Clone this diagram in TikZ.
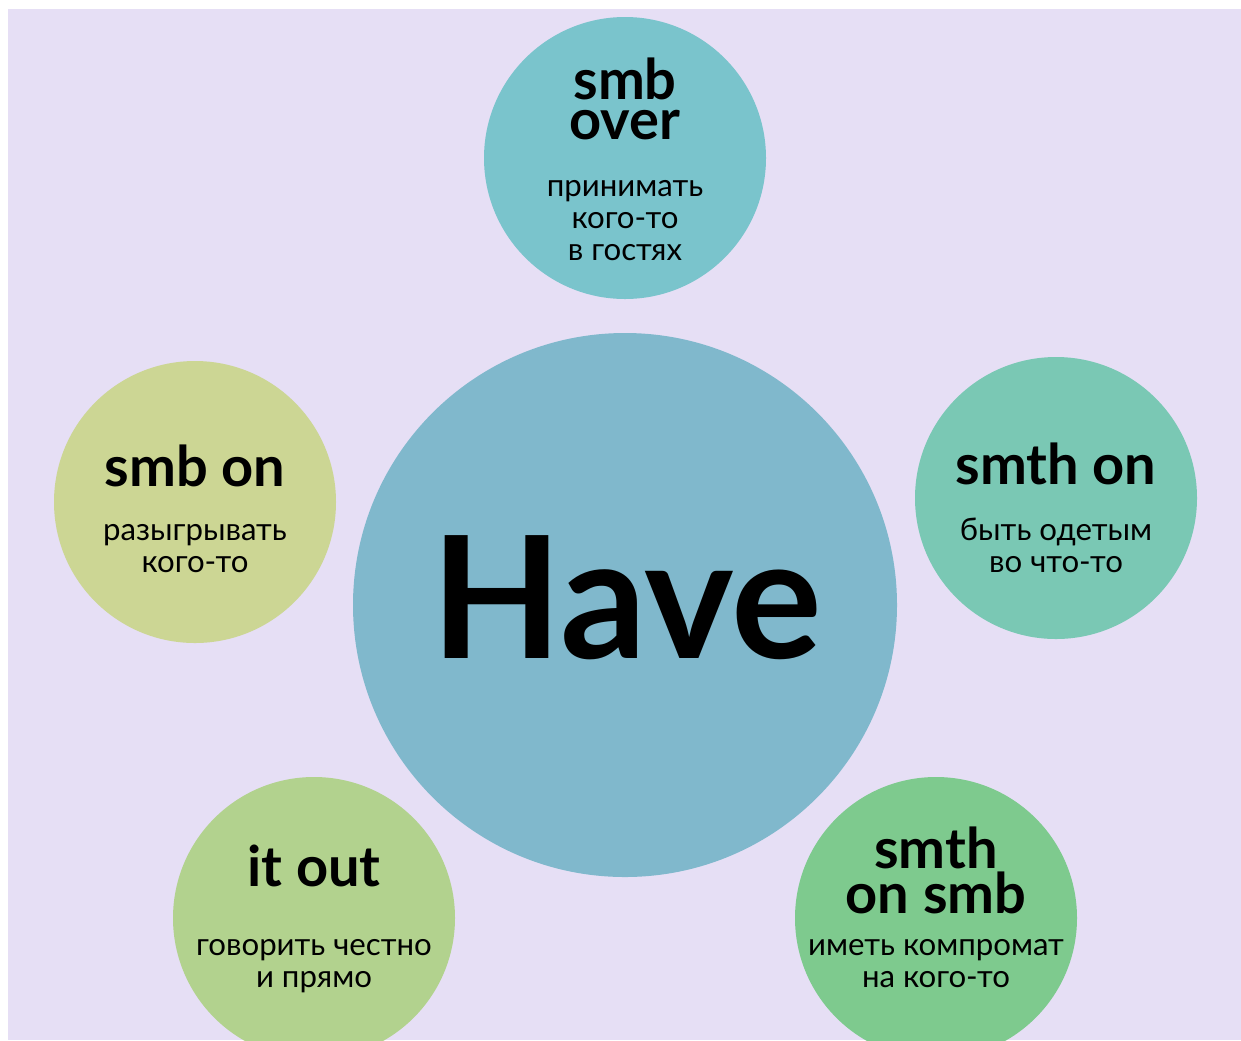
\documentclass[tikz,border=0pt]{standalone}
\usepackage{fontspec}
\setmainfont{Lato}
\usetikzlibrary{positioning}
\definecolor{lavender}{RGB}{230,223,245}
\definecolor{haveblue}{RGB}{128,184,204}
\definecolor{overteal}{RGB}{122,196,204}
\definecolor{onolive}{RGB}{204,214,148}
\definecolor{wearmint}{RGB}{122,200,180}
\definecolor{outgreen}{RGB}{178,210,142}
\definecolor{smbgreen}{RGB}{126,202,142}
\tikzset{
  bubble/.style={circle,draw=none,inner sep=0pt,minimum size=141pt},
  bigbubble/.style={bubble,minimum size=272pt},
  phrase/.style={anchor=base,align=center,inner sep=0pt,font=\fontsize{28}{20}\selectfont\bfseries},
  gloss/.style={anchor=base,align=center,inner sep=0pt,font=\fontsize{15.6}{16}\selectfont},
  verb/.style={anchor=base,inner sep=0pt,font=\fontsize{85}{85}\selectfont\bfseries}
}

\begin{document}
\begin{tikzpicture}[x=0.5pt,y=-0.5pt]
  \useasboundingbox (0,0) rectangle (1241,1040);
  \fill[white] (0,0) rectangle (1241,1040);
  \begin{scope}
  \clip (8,9) rectangle (1241,1040);
  \fill[lavender] (8,9) rectangle (1241,1040);
  % the verb in the middle
  \node[bigbubble,fill=haveblue] (have) at (625,605) {};
  \node[verb] (havetxt) at (627,658) {Have};
  % the five phrasal uses round it
  \node[bubble,fill=overteal] (over) at (625,158) {};
  \node[phrase] (overtxt) at (625,139) {smb\\over};
  \node[gloss] (overgl) at (625,260) {принимать\\кого-то\\в гостях};

  \node[bubble,fill=onolive] (on) at (195,502) {};
  \node[phrase] (ontxt) at (195,486) {smb on};
  \node[gloss] (ongl) at (195,572) {разыгрывать\\кого-то};

  \node[bubble,fill=wearmint] (wear) at (1056,498) {};
  \node[phrase] (weartxt) at (1056,484) {smth on};
  \node[gloss] (weargl) at (1056,572) {быть одетым\\во что-то};

  \node[bubble,fill=outgreen] (out) at (314,918) {};
  \node[phrase] (outtxt) at (314,886) {it out};
  \node[gloss] (outgl) at (314,987) {говорить честно\\и прямо};

  \node[bubble,fill=smbgreen] (dirt) at (936,918) {};
  \node[phrase] (dirttxt) at (936,913) {smth\\on smb};
  \node[gloss] (dirtgl) at (936,987) {иметь компромат\\на кого-то};
  \end{scope}
\end{tikzpicture}
\end{document}
